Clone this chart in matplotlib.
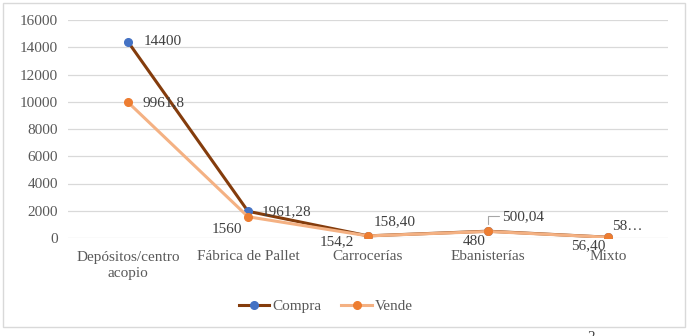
import matplotlib.pyplot as plt
from matplotlib.patches import Rectangle

categorias = ['Depósitos/centro\nacopio', 'Fábrica de Pallet', 'Carrocerías', 'Ebanisterías', 'Mixto']
compra = [14400, 1961.28, 158.40, 500.04, 58.40]
vende = [9961.8, 1560, 154.2, 480, 56.40]
etiq_compra = ['14400', '1961,28', '158,40', '500,04', '58…']
etiq_vende = ['9961,8', '1560', '154,2', '480', '56,40']

plt.rcParams['font.family'] = ['Liberation Serif', 'DejaVu Serif']

fig = plt.figure(figsize=(6.88, 3.36), dpi=100)
ax = fig.add_axes([68 / 688, 1 - 238 / 336, 600 / 688, 218 / 336])

x = range(len(categorias))
ax.plot(x, compra, color='#843C0C', lw=2.2, marker='o', ms=5.5,
        markerfacecolor='#4472C4', markeredgecolor='#4472C4', label='Compra', zorder=3)
ax.plot(x, vende, color='#F4B183', lw=2.2, marker='o', ms=5.5,
        markerfacecolor='#ED7D31', markeredgecolor='#ED7D31', label='Vende', zorder=4)

ax.set_xlim(-0.5, len(categorias) - 0.5)
ax.set_ylim(0, 16000)
ax.set_yticks(range(0, 16001, 2000))
ax.set_xticks(list(x))
ax.set_xticklabels(categorias, linespacing=1.35)
ax.tick_params(axis='both', length=0, labelsize=11, colors='#595959')
ax.tick_params(axis='x', pad=9)
ax.tick_params(axis='y', pad=7)
ax.grid(axis='y', color='#D9D9D9', lw=0.9)
ax.set_axisbelow(True)
for s in ax.spines.values():
    s.set_visible(False)

lbl = dict(fontsize=11, color='#404040')
# Compra labels (right of marker)
off_c = [(11, 0), (10, 0), (4, 10), (10, 10.5), (3, 7.5)]
for i, (v, t) in enumerate(zip(compra, etiq_compra)):
    ax.annotate(t, (i, v), textcoords='offset points', xytext=off_c[i],
                ha='left', va='center', **lbl)
# leader line for 500,04
ax.annotate('', (3, compra[3]), xytext=(8, 11), textcoords='offset points',
            arrowprops=dict(arrowstyle='-', color='#A6A6A6', lw=0.8, shrinkA=0, shrinkB=5,
                            connectionstyle='angle,angleA=0,angleB=90,rad=0'))
# Vende labels
off_v = [(10.5, 0), (-4, -9), (-10, -4.5), (-2, -7.5), (-2, -6)]
ha_v = ['left', 'right', 'right', 'right', 'right']
for i, (v, t) in enumerate(zip(vende, etiq_vende)):
    ax.annotate(t, (i, v), textcoords='offset points', xytext=off_v[i],
                ha=ha_v[i], va='center', **lbl)

leg = fig.legend(loc='center', bbox_to_anchor=(326 / 688, 1 - 306 / 336), ncol=2, frameon=False,
                 fontsize=11, handlelength=2.0, columnspacing=1.3, handletextpad=0.2)
for t in leg.get_texts():
    t.set_color('#595959')

fig.patches.append(Rectangle((3 / 688, 1 - 327 / 336), 682 / 688, 324 / 336,
                             transform=fig.transFigure, fill=False, edgecolor='#D9D9D9', lw=1))
# fragment of a superscript cut by the bottom edge, as in the source image
fig.text(587 / 688, 1 - 341 / 336, '2', fontsize=11, color='#404040', va='baseline')

fig.savefig('out.png', dpi=100, facecolor='white')
